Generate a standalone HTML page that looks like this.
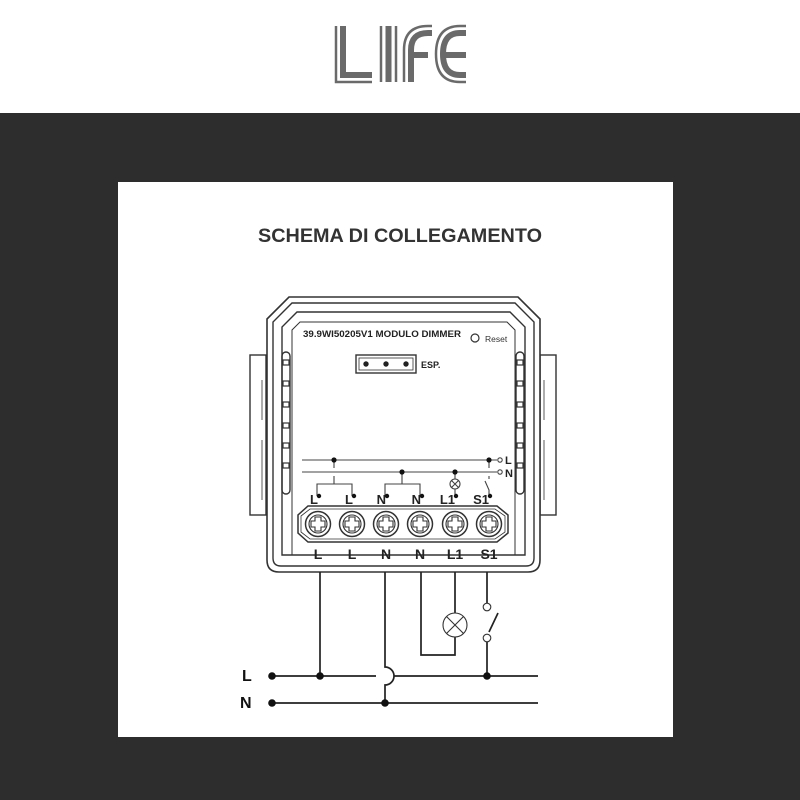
<!DOCTYPE html>
<html><head><meta charset="utf-8"><style>
html,body{margin:0;padding:0;width:800px;height:800px;overflow:hidden;background:#2d2d2d}
svg{display:block}
text{font-family:"Liberation Sans",sans-serif}
</style></head><body>
<svg width="800" height="800" viewBox="0 0 800 800" xmlns="http://www.w3.org/2000/svg">
<rect x="0" y="0" width="800" height="113" fill="#fff"/>
<rect x="0" y="113" width="800" height="687" fill="#2d2d2d"/>
<!-- LIFE logo -->
<g fill="none" stroke="#6a6a6a">
 <path d="M336 26V82H372" stroke-width="2.5"/><path d="M343 26V75H372" stroke-width="6"/>
 <path d="M381 26V82M396 26V82" stroke-width="2.5"/><path d="M388.5 26V82" stroke-width="6"/>
 <path d="M404 82V50Q404 26 428 26H432" stroke-width="2.5"/><path d="M411 82V50Q411 33 428 33H432M411 55H428" stroke-width="6"/>
 <path d="M466 26H460Q436 26 436 54Q436 82 460 82H466" stroke-width="2.5"/><path d="M466 33H460Q443 33 443 54Q443 75 460 75H466M443 55H466" stroke-width="6"/>
</g>
<rect x="118" y="182" width="555" height="555" fill="#fff"/>
<text x="400" y="242" text-anchor="middle" font-size="19" font-weight="bold" fill="#333" textLength="284" lengthAdjust="spacingAndGlyphs">SCHEMA DI COLLEGAMENTO</text>
<g fill="none" stroke="#333" stroke-width="1.4">
 <rect x="250" y="355" width="16" height="160" fill="#fff"/>
 <rect x="540" y="355" width="16" height="160" fill="#fff"/>
 <path d="M262 380V420M262 440V500M544 380V420M544 440V500" stroke-width="0.8"/>
 <path d="M289 297H518L540 319V560Q540 572 528 572H279Q267 572 267 560V319Z" fill="#fff" stroke-width="1.6"/>
 <path d="M292 303H515L534 322V558Q534 566 526 566H281Q273 566 273 558V322Z"/>
 <path d="M297 312H510L525 327V555H282V327Z"/>
 <path d="M300 322H507L515 330V555H292V330Z" stroke-width="1"/>
 <rect x="282" y="352" width="8" height="142" rx="4"/>
 <rect x="516" y="352" width="8" height="142" rx="4"/>
</g>
<g fill="#fff" stroke="#333" stroke-width="1.2">
 <rect x="283" y="360" width="6" height="5"/><rect x="283" y="381" width="6" height="5"/><rect x="283" y="402" width="6" height="5"/><rect x="283" y="423" width="6" height="5"/><rect x="283" y="443" width="6" height="5"/><rect x="283" y="463" width="6" height="5"/>
 <rect x="517" y="360" width="6" height="5"/><rect x="517" y="381" width="6" height="5"/><rect x="517" y="402" width="6" height="5"/><rect x="517" y="423" width="6" height="5"/><rect x="517" y="443" width="6" height="5"/><rect x="517" y="463" width="6" height="5"/>
</g>
<text x="303" y="337" font-size="9" font-weight="bold" fill="#222" textLength="158" lengthAdjust="spacingAndGlyphs">39.9WI50205V1  MODULO DIMMER</text>
<circle cx="475" cy="338" r="4" fill="none" stroke="#333" stroke-width="1.2"/>
<text x="485" y="342" font-size="8.5" fill="#333">Reset</text>
<rect x="356" y="355" width="60" height="18" fill="none" stroke="#333" stroke-width="1.4"/>
<rect x="359" y="358" width="54" height="12" fill="none" stroke="#333" stroke-width="0.8"/>
<circle cx="366" cy="364" r="2.7" fill="#222"/><circle cx="386" cy="364" r="2.7" fill="#222"/><circle cx="406" cy="364" r="2.7" fill="#222"/>
<text x="421" y="368" font-size="9" font-weight="bold" fill="#222">ESP.</text>
<g fill="none" stroke="#444" stroke-width="1.1">
 <path d="M302 460H497M302 472H497"/>
 <path d="M334 460V468M334 476V484M317 496V484H352V496"/>
 <path d="M402 472V484M385 496V484H420V496"/>
 <path d="M455 472V479M455 489V496"/>
 <path d="M489 460V468M489 476V479M489 496V490L485 481"/>
 <circle cx="500" cy="460" r="2.2"/><circle cx="500" cy="472" r="2.2"/>
 <circle cx="455" cy="484" r="5"/><path d="M451.5 480.5L458.5 487.5M458.5 480.5L451.5 487.5"/>
</g>
<g fill="#111"><circle cx="334" cy="460" r="2.6"/><circle cx="402" cy="472" r="2.6"/><circle cx="455" cy="472" r="2.6"/><circle cx="489" cy="460" r="2.6"/>
<circle cx="319" cy="496" r="2.2"/><circle cx="354" cy="496" r="2.2"/><circle cx="387" cy="496" r="2.2"/><circle cx="422" cy="496" r="2.2"/><circle cx="456" cy="496" r="2.2"/><circle cx="490" cy="496" r="2.2"/></g>
<text x="505" y="464" font-size="11" font-weight="bold" fill="#222">L</text>
<text x="505" y="477" font-size="11" font-weight="bold" fill="#222">N</text>
<g font-size="13" font-weight="bold" fill="#222" text-anchor="end">
<text x="318" y="504">L</text><text x="353" y="504">L</text><text x="386" y="504">N</text><text x="421" y="504">N</text><text x="455" y="504">L1</text><text x="489" y="504">S1</text></g>
<path d="M308 506H497L508 515V533L497 542H308L298 533V515Z" fill="#fff" stroke="#333" stroke-width="1.5"/>
<path d="M310 509H495L505 516V532L495 539H310L301 532V516Z" fill="none" stroke="#333" stroke-width="0.8"/>
<g fill="#fff" stroke="#333">
 <g id="s"><circle cx="318" cy="524" r="12.5" stroke-width="1.5"/><circle cx="318" cy="524" r="9" stroke-width="1.1"/><path d="M311 521H315V517H321V521H325V527H321V531H315V527H311Z" stroke-width="1.1"/></g>
 <use href="#s" x="34"/><use href="#s" x="68"/><use href="#s" x="102"/><use href="#s" x="137"/><use href="#s" x="171"/>
</g>
<g font-size="14" font-weight="bold" fill="#222" text-anchor="middle">
<text x="318" y="559">L</text><text x="352" y="559">L</text><text x="386" y="559">N</text><text x="420" y="559">N</text><text x="455" y="559">L1</text><text x="489" y="559">S1</text></g>
<g fill="none" stroke="#222" stroke-width="1.7">
 <path d="M272 676H376M394 676H538"/>
 <path d="M272 703H538"/>
 <path d="M320 572V676"/>
 <path d="M385 572V667A9 9 0 0 1 385 685V703"/>
 <path d="M421 572V655H455V637M455 613V572"/>
 <path d="M487 572V603M487 642V676M489 632L498 613"/>
</g>
<g fill="none" stroke="#333" stroke-width="1.1">
 <circle cx="455" cy="625" r="12"/><path d="M446.5 616.5L463.5 633.5M463.5 616.5L446.5 633.5"/>
 <circle cx="487" cy="607" r="3.8" fill="#fff"/><circle cx="487" cy="638" r="3.8" fill="#fff"/>
</g>
<g fill="#111"><circle cx="272" cy="676" r="3.8"/><circle cx="272" cy="703" r="3.8"/><circle cx="320" cy="676" r="3.8"/><circle cx="487" cy="676" r="3.8"/><circle cx="385" cy="703" r="3.8"/></g>
<text x="242" y="681" font-size="16" font-weight="bold" fill="#111">L</text>
<text x="240" y="708" font-size="16" font-weight="bold" fill="#111">N</text>
</svg>
</body></html>
